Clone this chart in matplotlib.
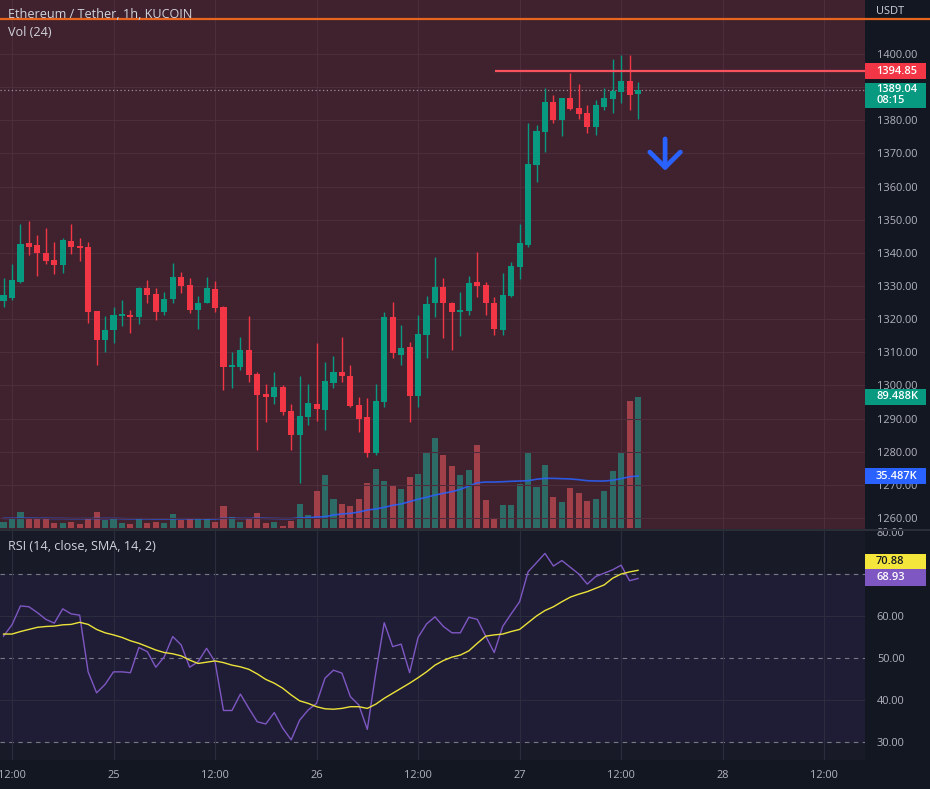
import matplotlib
matplotlib.use('Agg')
import matplotlib.pyplot as plt
from matplotlib.patches import Rectangle
from matplotlib.lines import Line2D

plt.rcParams['font.family'] = ['Open Sans', 'DejaVu Sans']

# hourly candles, hour 0 = 24th 12:00
hours = list(range(-1, 75))

opens = [1325.6, 1326.3, 1331.3, 1342.9, 1342.4, 1340.0, 1337.8, 1336.3, 1343.6, 1342.1,
         1341.9, 1322.4, 1313.7, 1316.7, 1321.0, 1321.4, 1320.7, 1329.3, 1327.5, 1322.2,
         1326.0, 1332.6, 1330.3, 1322.8, 1325.0, 1329.1, 1323.6, 1305.6, 1305.7, 1310.7,
         1303.4, 1297.4, 1296.4, 1299.6, 1292.3, 1285.2, 1290.6, 1294.4, 1292.6, 1300.8,
         1304.0, 1302.8, 1294.1, 1290.6, 1279.5, 1295.1, 1320.7, 1309.2, 1311.7, 1296.9,
         1315.2, 1324.8, 1329.8, 1324.8, 1322.3, 1322.5, 1331.3, 1330.3, 1325.0, 1316.7,
         1327.1, 1335.8, 1342.4, 1366.5, 1376.6, 1385.6, 1380.1, 1386.6, 1383.6, 1382.1,
         1378.1, 1383.9, 1386.4, 1388.6, 1391.9, 1387.8]
highs = [1332.4, 1336.8, 1348.7, 1349.7, 1345.4, 1347.4, 1343.4, 1344.4, 1348.7, 1344.4,
         1343.4, 1322.6, 1320.9, 1323.6, 1325.8, 1322.8, 1329.6, 1331.8, 1329.3, 1328.3,
         1337.0, 1334.3, 1332.3, 1327.0, 1332.6, 1331.6, 1324.0, 1310.2, 1314.5, 1321.0,
         1304.1, 1300.4, 1304.1, 1300.0, 1294.4, 1302.8, 1300.3, 1312.9, 1307.0, 1308.9,
         1314.5, 1306.2, 1296.6, 1296.1, 1300.3, 1322.2, 1325.3, 1318.2, 1313.2, 1321.2,
         1327.0, 1338.8, 1332.3, 1325.3, 1328.3, 1333.0, 1340.3, 1331.3, 1326.8, 1334.0,
         1337.3, 1348.7, 1379.1, 1378.6, 1389.6, 1387.6, 1386.8, 1394.4, 1390.9, 1384.6,
         1386.1, 1389.6, 1398.5, 1399.7, 1399.7, 1391.6]
lows = [1323.7, 1325.8, 1330.9, 1339.4, 1333.0, 1336.8, 1333.6, 1334.0, 1339.6, 1337.5,
        1318.7, 1306.2, 1310.2, 1312.7, 1317.9, 1315.7, 1318.5, 1324.8, 1319.7, 1321.2,
        1324.8, 1328.0, 1321.8, 1316.9, 1324.8, 1322.2, 1298.6, 1299.1, 1304.6, 1301.1,
        1280.5, 1289.0, 1294.4, 1291.1, 1280.5, 1270.5, 1288.0, 1289.4, 1286.5, 1299.1,
        1301.1, 1293.6, 1286.0, 1278.5, 1279.0, 1293.6, 1308.2, 1306.2, 1289.0, 1293.6,
        1308.2, 1320.7, 1314.2, 1310.7, 1314.9, 1321.2, 1326.8, 1321.2, 1315.2, 1315.2,
        1326.8, 1332.0, 1341.9, 1361.5, 1370.5, 1379.1, 1375.3, 1383.1, 1380.3, 1376.1,
        1375.6, 1383.1, 1382.1, 1385.3, 1383.1, 1380.3]
closes = [1327.3, 1331.8, 1342.6, 1341.9, 1339.9, 1337.5, 1336.3, 1343.9, 1341.9, 1341.6,
          1322.2, 1313.7, 1316.7, 1321.2, 1321.5, 1320.7, 1329.3, 1327.3, 1322.2, 1326.0,
          1332.6, 1330.0, 1322.8, 1325.0, 1329.3, 1323.5, 1305.6, 1306.2, 1310.7, 1303.3,
          1297.1, 1296.4, 1299.6, 1292.1, 1285.2, 1290.9, 1294.6, 1292.9, 1301.3, 1304.0,
          1302.8, 1293.8, 1289.9, 1279.5, 1295.3, 1320.7, 1309.7, 1311.4, 1296.9, 1315.5,
          1324.6, 1329.8, 1324.8, 1322.1, 1322.8, 1330.8, 1330.0, 1324.8, 1316.9, 1327.3,
          1336.1, 1343.1, 1366.8, 1376.9, 1385.6, 1380.1, 1386.6, 1383.4, 1381.9, 1378.1,
          1384.6, 1386.6, 1388.9, 1391.9, 1387.6, 1389.04]

# volume in thousands
volume = [4.3, 5.9, 10.7, 6.6, 5.9, 6.6, 3.2, 3.6, 4.3, 2.7,
          6.6, 10.7, 5.5, 5.9, 3.6, 2.7, 5.9, 3.2, 3.9, 3.2,
          9.3, 5.5, 5.9, 6.6, 5.9, 3.9, 15.0, 7.3, 4.3, 5.9,
          10.0, 3.2, 4.3, 1.6, 4.6, 16.2, 8.9, 25.5, 36.2, 19.8,
          16.4, 15.0, 19.8, 30.5, 40.3, 32.3, 28.9, 26.6, 35.0, 36.9,
          52.1, 61.3, 49.9, 42.4, 36.2, 39.6, 56.7, 19.1, 6.1, 15.7,
          15.7, 30.0, 51.4, 28.2, 43.0, 21.4, 18.0, 27.5, 24.1, 18.7,
          19.8, 25.5, 39.2, 51.4, 86.7, 89.488]
vol_ma = [6.6, 6.6, 6.7, 6.7, 6.6, 6.6, 6.5, 6.5, 6.4, 6.4,
          6.4, 6.5, 6.5, 6.5, 6.4, 6.3, 6.3, 6.3, 6.2, 6.2,
          6.3, 6.3, 6.3, 6.3, 6.2, 6.2, 6.6, 6.6, 6.5, 6.5,
          6.7, 6.6, 6.5, 6.4, 6.4, 6.9, 7.1, 7.5, 7.7, 8.9,
          9.6, 10.0, 10.9, 12.3, 13.0, 14.1, 15.5, 16.4, 18.0, 19.6,
          21.0, 22.5, 23.7, 24.8, 26.4, 28.7, 30.9, 31.4, 31.4, 31.6,
          31.9, 32.1, 32.3, 33.3, 33.9, 33.9, 33.7, 33.5, 33.0, 32.3,
          32.1, 32.1, 32.6, 33.7, 35.0, 35.487]

rsi = [55.2, 57.9, 62.4, 62.2, 60.8, 59.2, 58.3, 61.7, 60.5, 60.2,
       46.7, 41.7, 43.7, 46.7, 46.7, 46.5, 52.5, 51.5, 47.8, 50.3,
       55.1, 53.1, 47.8, 49.1, 52.3, 49.1, 37.5, 37.5, 41.4, 38.0,
       34.8, 34.3, 37.0, 33.3, 30.5, 35.2, 37.6, 39.2, 45.2, 47.1,
       46.4, 40.8, 38.8, 33.0, 46.4, 58.4, 52.7, 53.3, 46.5, 54.9,
       58.1, 59.8, 57.5, 56.0, 56.0, 59.7, 59.2, 55.2, 51.3, 57.5,
       60.5, 63.4, 70.5, 72.7, 74.9, 71.9, 73.2, 71.6, 70.0, 67.6,
       69.4, 70.2, 71.0, 72.1, 68.4, 68.93]
rsi_sma = [55.7, 55.7, 56.3, 56.8, 57.3, 57.5, 57.6, 57.9, 58.0, 58.5,
           58.0, 56.8, 56.0, 55.5, 54.9, 54.1, 53.5, 52.7, 51.9, 51.3,
           51.0, 50.5, 49.5, 48.7, 49.0, 49.3, 48.9, 48.3, 47.9, 47.3,
           46.2, 44.9, 44.0, 42.8, 41.2, 39.8, 39.2, 38.4, 37.9, 37.8,
           38.0, 38.4, 38.4, 38.0, 39.0, 40.4, 41.6, 42.8, 44.0, 45.3,
           46.7, 48.3, 49.4, 50.2, 50.7, 51.7, 53.5, 55.2, 55.5, 55.7,
           56.3, 56.8, 58.4, 60.0, 61.3, 62.2, 63.4, 64.5, 65.2, 65.8,
           66.6, 67.4, 69.0, 70.0, 70.5, 70.88]

time_ticks = [0, 12, 24, 36, 48, 60, 72, 84, 96]
time_labels = ['12:00', '25', '12:00', '26', '12:00', '27', '12:00', '28', '12:00']

price_ticks = list(range(1260, 1401, 10))
rsi_ticks = [30, 40, 50, 60, 70, 80]

last_price = 1389.04
resist = 1394.85
orange_level = 1410.56

UP = '#089981'
DOWN = '#f23645'
BG = '#131722'
PANE = '#40212e'
TXT = '#b2b5be'

W, H = 930, 789


def rect(x0, y0, x1, y1):
    return [x0 / W, 1 - y1 / H, (x1 - x0) / W, (y1 - y0) / H]


fig = plt.figure(figsize=(W / 100, H / 100), dpi=100, facecolor=BG)
axv = fig.add_axes(rect(0, 0, 865, 529))
ax = fig.add_axes(rect(0, 0, 865, 529), sharex=axv)
ax2 = fig.add_axes(rect(0, 531, 865, 760), sharex=axv)
ax.patch.set_visible(False)
axv.set_facecolor(PANE)

for a in (axv, ax, ax2):
    for s in a.spines.values():
        s.set_visible(False)

axv.set_xlim(-1.418, 100.83)

# volume pane (below candles)
vcol = ['#2d6b66' if c >= o else '#a2404a' for o, c in zip(opens, closes)]
axv.bar(hours, volume, width=0.72, color=vcol, zorder=2)
axv.plot(hours, vol_ma, color='#2962ff', lw=1.2, alpha=0.85, zorder=3)
axv.set_ylim(-0.68, 360.6)
axv.set_yticks([])
axv.set_xticks(time_ticks)
axv.grid(axis='x', color='#4d2d3b', lw=0.8, zorder=0)
axv.tick_params(axis='x', length=0, labelbottom=False)

# candles
ccol = [UP if c >= o else DOWN for o, c in zip(opens, closes)]
bottoms = [min(o, c) for o, c in zip(opens, closes)]
bodies = [max(abs(c - o), 0.4) for o, c in zip(opens, closes)]
ax.vlines(hours, lows, highs, colors=ccol, lw=1, zorder=3)
ax.bar(hours, bodies, bottom=bottoms, width=0.72, color=ccol, zorder=4)
ax.set_ylim(1256.7, 1416.3)
ax.set_yticks(price_ticks)
# 1390 sits under the last-price tag, so its label is not shown
ax.set_yticklabels(['' if v == 1390 else '%.2f' % v for v in price_ticks])
ax.grid(axis='y', color='#4d2d3b', lw=0.8, zorder=0)
ax.tick_params(axis='y', left=False, labelleft=False, right=False, labelright=True,
               length=0, pad=8.5, labelsize=7.9, labelcolor=TXT)
ax.tick_params(axis='x', length=0, labelbottom=False)

ax.axhline(last_price, color='#9a8f99', lw=0.9, ls=(0, (1, 2)), zorder=2)
ax.hlines(resist, 57.1, 100.83, color='#f7525f', lw=1.6, zorder=5)
ax.annotate('', xy=(77.2, 1364.8), xytext=(77.2, 1374.4),
            arrowprops=dict(arrowstyle='->,head_length=0.55,head_width=0.55',
                            color='#2962ff', lw=3.4, shrinkA=0, shrinkB=0,
                            mutation_scale=20, capstyle='round'), zorder=6)

# orange line across chart and scale
yo = ax.transData.transform((0, orange_level))[1] / H
fig.lines.append(Line2D([0, 1], [yo, yo], transform=fig.transFigure,
                        color='#e8651e', lw=1.6))

fig.text(8 / W, 1 - 15 / H, 'Ethereum / Tether, 1h, KUCOIN', color='#d1d4dc',
         fontsize=9.1, va='center', ha='left')
fig.text(8 / W, 1 - 33 / H, 'Vol (24)', color='#d1d4dc', fontsize=9.1,
         va='center', ha='left')
fig.text(876 / W, 1 - 12 / H, 'USDT', color='#d1d4dc', fontsize=7.9,
         va='center', ha='left')

# RSI pane
ax2.set_facecolor('#181b27')
ax2.axhspan(30, 70, color='#1f1d36', zorder=0)
for lv in (40, 60):
    ax2.axhline(lv, color='#2b2d3e', lw=0.8, zorder=1)
for lv in (30, 50, 70):
    ax2.axhline(lv, color='#787b86', lw=0.8, ls=(0, (4, 4)), zorder=1)
ax2.plot(hours, rsi, color='#7e57c2', lw=1.0, zorder=3)
ax2.plot(hours, rsi_sma, color='#ece33a', lw=1.0, zorder=4)
ax2.set_ylim(25.71, 80.24)
ax2.set_yticks(rsi_ticks)
# 70 sits under the RSI tags
ax2.set_yticklabels(['' if v == 70 else '%.2f' % v for v in rsi_ticks])
ax2.set_xticks(time_ticks)
ax2.set_xticklabels(time_labels)
ax2.grid(axis='x', color='#2b2d3e', lw=0.8, zorder=0)
ax2.tick_params(axis='y', left=False, labelleft=False, labelright=True, length=0,
                pad=8.5, labelsize=7.9, labelcolor=TXT)
ax2.tick_params(axis='x', length=0, pad=7, labelsize=7.9, labelcolor=TXT)
fig.text(8 / W, 1 - 546 / H, 'RSI (14, close, SMA, 14, 2)', color='#d1d4dc',
         fontsize=9.1, va='center', ha='left')

# separator between panes
fig.lines.append(Line2D([0, 1], [1 - 530 / H, 1 - 530 / H], transform=fig.transFigure,
                        color='#2a2e39', lw=1.5))


def tag(axis, value, text, fc, tc, dy=0.0, h=16):
    y = axis.transData.transform((0, value))[1] + dy
    fig.patches.append(Rectangle((865 / W, (y - h / 2) / H), 61 / W, h / H,
                                 transform=fig.transFigure, fc=fc, ec='none', zorder=5))
    fig.text(876 / W, y / H, text, color=tc, fontsize=7.9, va='center', ha='left',
             linespacing=1.05, zorder=6, fontweight='semibold')


tag(ax, resist, '1394.85', DOWN, 'white')
tag(ax, last_price, '1389.04\n08:15', UP, 'white', dy=-4.7, h=25)
tag(axv, volume[-1], '89.488K', UP, 'white')
tag(axv, vol_ma[-1], '35.487K', '#2962ff', 'white')
tag(ax2, rsi_sma[-1], '70.88', '#f5e63b', '#131722', dy=9, h=15)
tag(ax2, rsi[-1], '68.93', '#7e57c2', 'white', dy=1, h=17)

fig.savefig('out.png', dpi=100, facecolor=BG)
